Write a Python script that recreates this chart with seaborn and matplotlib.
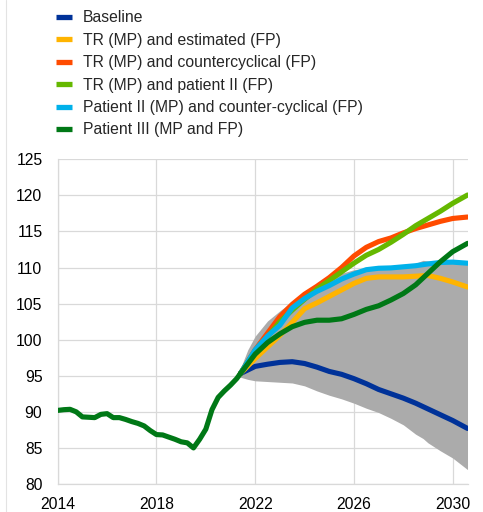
import matplotlib
matplotlib.use("Agg")
import matplotlib.pyplot as plt
from matplotlib.lines import Line2D
import seaborn as sns
import pandas as pd

# Historical path (shared by all scenarios)
hist_years = [2014.0, 2014.25, 2014.5, 2014.75, 2015.0, 2015.25, 2015.5, 2015.75,
              2016.0, 2016.25, 2016.5, 2016.75, 2017.0, 2017.25, 2017.5, 2017.75,
              2018.0, 2018.25, 2018.5, 2018.75, 2019.0, 2019.25, 2019.5, 2019.75,
              2020.0, 2020.25, 2020.5, 2020.75, 2021.0, 2021.25, 2021.4]
hist_values = [90.2, 90.3, 90.35, 90.0, 89.3, 89.25, 89.2, 89.65,
               89.75, 89.2, 89.2, 88.95, 88.65, 88.4, 88.05, 87.4,
               86.85, 86.8, 86.5, 86.2, 85.85, 85.7, 85.0, 86.2,
               87.6, 90.3, 92.0, 92.9, 93.7, 94.6, 95.3]

# Projection horizon
proj_years = [2021.4, 2022.0, 2022.5, 2023.0, 2023.5, 2024.0, 2024.5, 2025.0, 2025.5,
              2026.0, 2026.5, 2027.0, 2027.5, 2028.0, 2028.5, 2029.0, 2029.5, 2030.0, 2030.6]

baseline = [95.3, 96.3, 96.6, 96.85, 96.95, 96.7, 96.2, 95.6, 95.2,
            94.6, 93.9, 93.1, 92.5, 91.9, 91.2, 90.4, 89.6, 88.8, 87.7]
tr_estimated = [95.3, 97.4, 99.0, 100.6, 102.4, 104.3, 105.1, 106.0, 106.9,
                107.8, 108.5, 108.7, 108.7, 108.7, 108.8, 108.9, 108.5, 108.0, 107.3]
tr_countercyclical = [95.3, 98.6, 100.9, 103.2, 104.9, 106.3, 107.4, 108.6, 110.0,
                      111.6, 112.8, 113.6, 114.1, 114.8, 115.4, 115.9, 116.4, 116.8, 117.0]
tr_patient2 = [95.3, 98.5, 100.4, 102.5, 104.1, 105.6, 107.0, 108.2, 109.4,
               110.6, 111.7, 112.5, 113.5, 114.6, 115.8, 116.8, 117.8, 118.9, 120.05]
patient2_countercyclical = [95.3, 98.6, 100.5, 102.0, 104.4, 105.7, 106.7, 107.5, 108.4,
                            109.1, 109.7, 109.9, 109.95, 110.1, 110.25, 110.5, 110.7, 110.75, 110.6]
patient3 = [95.3, 98.0, 99.6, 100.8, 101.8, 102.4, 102.7, 102.7, 102.9,
            103.5, 104.2, 104.7, 105.5, 106.4, 107.6, 109.2, 110.8, 112.2, 113.35]

# Range of outcomes across rules
band_years = [2021.25, 2021.4, 2021.7, 2022.0, 2022.5, 2023.0, 2023.5, 2024.0, 2024.5, 2025.0,
              2025.5, 2026.0, 2026.5, 2027.0, 2027.5, 2028.0, 2028.5, 2028.8, 2029.0,
              2029.5, 2030.0, 2030.6]
band_upper = [95.2, 96.0, 98.6, 100.5, 102.6, 104.0, 105.3, 106.6, 107.6, 108.4,
              109.2, 109.7, 109.9, 110.1, 110.25, 110.35, 110.6, 111.0, 110.9,
              110.8, 110.7, 110.4]
band_lower = [95.0, 94.8, 94.5, 94.3, 94.2, 94.1, 94.0, 93.6, 92.9, 92.3,
              91.8, 91.2, 90.5, 89.9, 89.1, 88.2, 86.9, 86.3, 85.7,
              84.6, 83.6, 82.0]

labels = ["Baseline", "TR (MP) and estimated (FP)", "TR (MP) and countercyclical (FP)",
          "TR (MP) and patient II (FP)", "Patient II (MP) and counter-cyclical (FP)",
          "Patient III (MP and FP)"]
colors = ["#003299", "#ffb400", "#ff4b00", "#65b800", "#00b1ea", "#007816"]
series = [baseline, tr_estimated, tr_countercyclical, tr_patient2,
          patient2_countercyclical, patient3]
# drawing order (back to front)
draw_order = [0, 1, 2, 4, 3, 5]

x_ticks = [2014, 2018, 2022, 2026, 2030]
y_ticks = [80, 85, 90, 95, 100, 105, 110, 115, 120, 125]

FS = 11.3

sns.set_style("white")
plt.rcParams["font.family"] = ["Liberation Sans", "DejaVu Sans"]
plt.rcParams["font.size"] = FS

fig = plt.figure(figsize=(4.83, 5.12), dpi=100)
ax = fig.add_axes([57.7 / 483, 1 - 484 / 512, (468 - 57.7) / 483, (484 - 159.3) / 512])

ax.fill_between(band_years, band_lower, band_upper, color="#ababab", lw=0, zorder=1)

line_kw = dict(linewidth=3.7, solid_capstyle="round", solid_joinstyle="round")
for i in draw_order:
    df = pd.DataFrame({"year": proj_years, "value": series[i]})
    sns.lineplot(data=df, x="year", y="value", color=colors[i], ax=ax,
                 estimator=None, sort=False, zorder=3 + i, **line_kw)

hist_df = pd.DataFrame({"year": hist_years, "value": hist_values})
sns.lineplot(data=hist_df, x="year", y="value", color=colors[5], ax=ax,
             estimator=None, sort=False, zorder=10, **line_kw)

ax.set_xlim(2014, 2030.62)
ax.set_ylim(80, 125)
ax.set_xticks(x_ticks)
ax.set_yticks(y_ticks)
ax.set_xticklabels([str(t) for t in x_ticks])
ax.set_yticklabels([str(t) for t in y_ticks])
ax.set_xlabel("")
ax.set_ylabel("")
ax.grid(True, color="#d9d9d9", linewidth=0.9, zorder=0)
ax.set_axisbelow(True)
for side in ["top", "right"]:
    ax.spines[side].set_visible(False)
for side in ["left", "bottom"]:
    ax.spines[side].set_color("#d9d9d9")
    ax.spines[side].set_linewidth(0.9)
ax.tick_params(axis="both", length=0, labelsize=FS, colors="#000000")
ax.tick_params(axis="x", pad=9.5)
ax.tick_params(axis="y", pad=11)

handles = [Line2D([0], [0], color=c, linewidth=3.8, solid_capstyle="butt") for c in colors]
fig.legend(handles, labels, loc="upper left", bbox_to_anchor=(56 / 483, 1 - 10.5 / 512),
           frameon=False, fontsize=FS, handlelength=1.0, handletextpad=0.7,
           labelspacing=0.47, borderpad=0, borderaxespad=0)

# thin rule at the left edge of the panel
fig.add_artist(Line2D([5.5 / 483, 5.5 / 483], [0, 1], transform=fig.transFigure,
                      color="#e3e3e3", linewidth=0.8))

fig.savefig("out.png", dpi=100)
